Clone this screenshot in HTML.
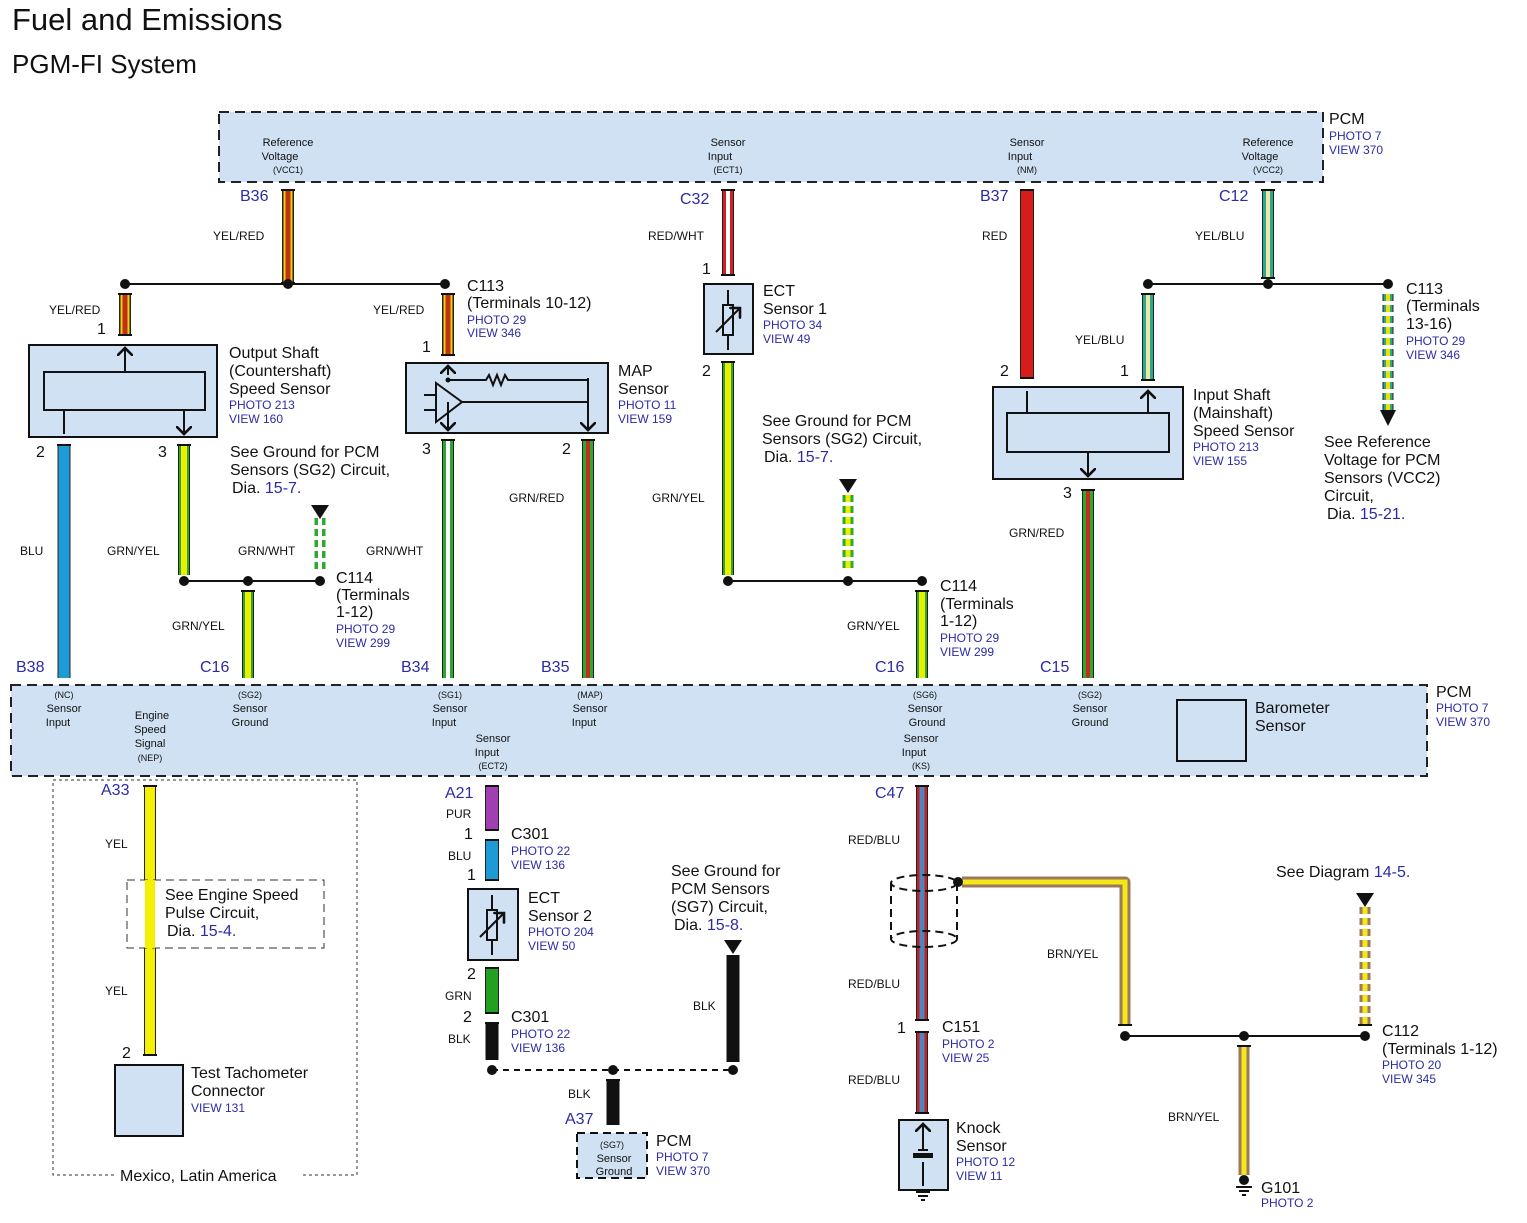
<!DOCTYPE html>
<html><head><meta charset="utf-8"><style>
body{margin:0;background:#fff}
svg{display:block;font-family:"Liberation Sans",sans-serif}
.t{font-size:16px;fill:#111}
.s{font-size:12px;fill:#111}
.xs{font-size:11px;fill:#111}
.b{font-size:12px;fill:#2b2ba6}
.bl{font-size:16px;fill:#2b2ba6}
.box{fill:#cfe1f3;stroke:#111;stroke-width:2}
.dash{fill:#cfe1f3;stroke:#222;stroke-width:2;stroke-dasharray:10 6}
.ln{stroke:#111;stroke-width:2;fill:none}
</style></head><body>
<svg width="1527" height="1223" viewBox="0 0 1527 1223">
<defs>
<marker id="ar" markerWidth="8" markerHeight="8" refX="4" refY="4" orient="auto"><path d="M0,0 L4,4 L0,8" fill="none" stroke="#111" stroke-width="1.3"/></marker>
</defs>
<text x="12" y="30" style="font-size:31px;fill:#111">Fuel and Emissions</text>
<text x="12" y="73" style="font-size:26px;fill:#111">PGM-FI System</text>

<rect x="219" y="112" width="1104" height="70" class="dash"/>
<rect x="11" y="685" width="1416" height="91" class="dash"/>
<g class="xs" text-anchor="middle">
<text x="288" y="146">Reference</text><text x="280" y="160">Voltage</text><text x="288" y="173" style="font-size:9px">(VCC1)</text>
<text x="728" y="146">Sensor</text><text x="720" y="160">Input</text><text x="728" y="173" style="font-size:9px">(ECT1)</text>
<text x="1027" y="146">Sensor</text><text x="1020" y="160">Input</text><text x="1027" y="173" style="font-size:9px">(NM)</text>
<text x="1268" y="146">Reference</text><text x="1260" y="160">Voltage</text><text x="1268" y="173" style="font-size:9px">(VCC2)</text>
</g>
<text x="1329" y="124" class="t">PCM</text><text x="1329" y="140" class="b">PHOTO 7</text><text x="1329" y="154" class="b">VIEW 370</text>
<text x="1436" y="697" class="t">PCM</text><text x="1436" y="712" class="b">PHOTO 7</text><text x="1436" y="726" class="b">VIEW 370</text>
<g class="xs" text-anchor="middle">
<text x="64" y="698" style="font-size:9px">(NC)</text><text x="64" y="712">Sensor</text><text x="58" y="726">Input</text>
<text x="152" y="719">Engine</text><text x="150" y="733">Speed</text><text x="150" y="747">Signal</text><text x="150" y="761" style="font-size:9px">(NEP)</text>
<text x="250" y="698" style="font-size:9px">(SG2)</text><text x="250" y="712">Sensor</text><text x="250" y="726">Ground</text>
<text x="450" y="698" style="font-size:9px">(SG1)</text><text x="450" y="712">Sensor</text><text x="444" y="726">Input</text>
<text x="493" y="742">Sensor</text><text x="487" y="756">Input</text><text x="493" y="769" style="font-size:9px">(ECT2)</text>
<text x="590" y="698" style="font-size:9px">(MAP)</text><text x="590" y="712">Sensor</text><text x="584" y="726">Input</text>
<text x="925" y="698" style="font-size:9px">(SG6)</text><text x="925" y="712">Sensor</text><text x="927" y="726">Ground</text>
<text x="921" y="742">Sensor</text><text x="914" y="756">Input</text><text x="921" y="769" style="font-size:9px">(KS)</text>
<text x="1090" y="698" style="font-size:9px">(SG2)</text><text x="1090" y="712">Sensor</text><text x="1090" y="726">Ground</text>
</g>
<rect x="1177" y="700" width="69" height="61" class="box"/>
<text x="1255" y="713" class="t">Barometer</text><text x="1255" y="731" class="t">Sensor</text>

<g fill="none" stroke-linecap="butt">
<g><path d="M288 190V283" stroke="#222" stroke-width="12"/><path d="M288 190V283" stroke="#f5d000" stroke-width="9"/><path d="M288 190V283" stroke="#c0301c" stroke-width="5"/></g>
<g><path d="M125 294V335" stroke="#222" stroke-width="12"/><path d="M125 294V335" stroke="#f5d000" stroke-width="9"/><path d="M125 294V335" stroke="#c0301c" stroke-width="5"/></g>
<g><path d="M448 294V355" stroke="#222" stroke-width="12"/><path d="M448 294V355" stroke="#f5d000" stroke-width="9"/><path d="M448 294V355" stroke="#c0301c" stroke-width="5"/></g>
<path d="M64 445V678" stroke="#222" stroke-width="13"/><path d="M64 445V678" stroke="#1e9ad4" stroke-width="11"/>
<g><path d="M184 445V575" stroke="#222" stroke-width="12"/><path d="M184 445V575" stroke="#2ea82e" stroke-width="10"/><path d="M184 445V575" stroke="#e8f000" stroke-width="6"/></g>
<g><path d="M248 591V678" stroke="#222" stroke-width="12"/><path d="M248 591V678" stroke="#2ea82e" stroke-width="10"/><path d="M248 591V678" stroke="#e8f000" stroke-width="6"/></g>
<g><path d="M728 362V575" stroke="#222" stroke-width="12"/><path d="M728 362V575" stroke="#2ea82e" stroke-width="10"/><path d="M728 362V575" stroke="#e8f000" stroke-width="6"/></g>
<g><path d="M922 591V678" stroke="#222" stroke-width="12"/><path d="M922 591V678" stroke="#2ea82e" stroke-width="10"/><path d="M922 591V678" stroke="#e8f000" stroke-width="6"/></g>
<g stroke-dasharray="7 4"><path d="M320 518V572" stroke="#2ea82e" stroke-width="11"/><path d="M320 518V572" stroke="#fff" stroke-width="4"/></g>
<g stroke-dasharray="7 4"><path d="M848 495V572" stroke="#2ea82e" stroke-width="11"/><path d="M848 495V572" stroke="#e8f000" stroke-width="5"/></g>
<g stroke-dasharray="7 4"><path d="M1388 294V410" stroke="#222" stroke-width="11"/><path d="M1388 294V410" stroke="#2aa890" stroke-width="9"/><path d="M1388 294V410" stroke="#f0e000" stroke-width="4"/></g>
<g stroke-dasharray="7 4"><path d="M1365 907V1025" stroke="#9b7a5c" stroke-width="11"/><path d="M1365 907V1025" stroke="#f5e81a" stroke-width="5"/></g>
<g><path d="M448 440V678" stroke="#222" stroke-width="12"/><path d="M448 440V678" stroke="#2ea82e" stroke-width="10"/><path d="M448 440V678" stroke="#fff" stroke-width="4"/></g>
<g><path d="M588 440V678" stroke="#222" stroke-width="12"/><path d="M588 440V678" stroke="#2ea82e" stroke-width="10"/><path d="M588 440V678" stroke="#c0301c" stroke-width="4"/></g>
<g><path d="M1088 490V678" stroke="#222" stroke-width="12"/><path d="M1088 490V678" stroke="#2ea82e" stroke-width="10"/><path d="M1088 490V678" stroke="#c0301c" stroke-width="4"/></g>
<g><path d="M728 190V275" stroke="#222" stroke-width="12"/><path d="M728 190V275" stroke="#d42020" stroke-width="10"/><path d="M728 190V275" stroke="#fff" stroke-width="4"/></g>
<path d="M1027 190V378" stroke="#222" stroke-width="14"/><path d="M1027 190V378" stroke="#d81c1c" stroke-width="12"/>
<g><path d="M1268 190V278" stroke="#222" stroke-width="12"/><path d="M1268 190V278" stroke="#2aa890" stroke-width="10"/><path d="M1268 190V278" stroke="#f0e8a0" stroke-width="4"/></g>
<g><path d="M1148 294V380" stroke="#222" stroke-width="12"/><path d="M1148 294V380" stroke="#2aa890" stroke-width="10"/><path d="M1148 294V380" stroke="#f0e8a0" stroke-width="4"/></g>
<path d="M150 786V1055" stroke="#222" stroke-width="12"/><path d="M150 786V1055" stroke="#f5f000" stroke-width="10"/>
<path d="M492 786V830" stroke="#222" stroke-width="14"/><path d="M492 786V830" stroke="#a040b0" stroke-width="12"/>
<path d="M492 840V880" stroke="#222" stroke-width="14"/><path d="M492 840V880" stroke="#1e9ad4" stroke-width="12"/>
<path d="M492 968V1013" stroke="#222" stroke-width="14"/><path d="M492 968V1013" stroke="#22a022" stroke-width="12"/>
<path d="M492 1023V1060" stroke="#111" stroke-width="13"/>
<path d="M733 955V1062" stroke="#111" stroke-width="13"/>
<path d="M613 1080V1125" stroke="#111" stroke-width="13"/>
<g><path d="M922 786V1020" stroke="#222" stroke-width="12"/><path d="M922 786V1020" stroke="#c81e1e" stroke-width="10"/><path d="M922 786V1020" stroke="#4a86c0" stroke-width="5"/></g>
<g><path d="M922 1032V1113" stroke="#222" stroke-width="12"/><path d="M922 1032V1113" stroke="#c81e1e" stroke-width="10"/><path d="M922 1032V1113" stroke="#4a86c0" stroke-width="5"/></g>
<g><path d="M962 882H1125V1025" stroke="#9b7a5c" stroke-width="11" stroke-linejoin="round"/><path d="M962 882H1125V1025" stroke="#f5e81a" stroke-width="5"/></g>
<g><path d="M1244 1046V1175" stroke="#9b7a5c" stroke-width="11"/><path d="M1244 1046V1175" stroke="#f5e81a" stroke-width="5"/></g>
</g>

<!-- connector caps -->
<g class="ln" stroke-width="2">
<path d="M281 190H295M281 283H295M118 294H132M118 335H132M441 294H455M441 355H455M57 445H71M177 445H191M241 591H255M721 362H735M915 591H929M441 440H455M581 440H595M1081 490H1095M721 190H735M721 275H735M1020 190H1034M1020 378H1034M1261 190H1275M1261 278H1275M1141 294H1155M1141 380H1155M143 786H157M143 1055H157M485 786H499M485 830H499M485 840H499M485 880H499M485 968H499M485 1013H499M485 1023H499M915 786H929M915 1020H929M915 1032H929M915 1113H929M1118 1025H1132M1237 1046H1251M1358 1025H1372M606 1080H620"/>
</g>

<path class="ln" d="M125 284H445M184 581H320M728 581H922M1148 284H1388M1125 1036H1365"/>
<path class="ln" d="M492 1070H733" stroke-dasharray="6 5"/>
<g fill="#111">
<circle cx="125" cy="284" r="5"/><circle cx="288" cy="284" r="5"/><circle cx="445" cy="284" r="5"/>
<circle cx="184" cy="581" r="5"/><circle cx="248" cy="581" r="5"/><circle cx="320" cy="581" r="5"/>
<circle cx="728" cy="581" r="5"/><circle cx="848" cy="581" r="5"/><circle cx="922" cy="581" r="5"/>
<circle cx="1148" cy="284" r="5"/><circle cx="1268" cy="284" r="5"/><circle cx="1388" cy="284" r="5"/>
<circle cx="492" cy="1070" r="5"/><circle cx="613" cy="1070" r="5"/><circle cx="733" cy="1070" r="5"/>
<circle cx="1125" cy="1036" r="5"/><circle cx="1244" cy="1036" r="5"/><circle cx="1365" cy="1036" r="5"/>
<circle cx="958" cy="882" r="5"/>
<path d="M311 505H329L320 519Z"/><path d="M839 479H857L848 493Z"/><path d="M724 940H742L733 954Z"/><path d="M1356 893H1374L1365 907Z"/>
<path d="M1380 410H1396L1388 426Z"/>
</g>

<rect x="29" y="345" width="188" height="92" class="box"/>
<rect x="44" y="372" width="161" height="38" class="box"/>
<path class="ln" d="M125 372V348" marker-end="url(#ar)"/>
<path class="ln" d="M64 410V434M184 410V434" marker-end="url(#ar)"/>
<text x="229" y="358" class="t">Output Shaft</text><text x="229" y="376" class="t">(Countershaft)</text><text x="229" y="394" class="t">Speed Sensor</text>
<text x="229" y="409" class="b">PHOTO 213</text><text x="229" y="423" class="b">VIEW 160</text>

<rect x="406" y="363" width="202" height="70" class="box"/>
<path class="ln" d="M436 383L462 402L436 422Z" fill="#cfe1f3"/>
<path class="ln" d="M424 395H436M424 410H436M462 402H588V378M448 380H486l3-5 4 10 4-10 4 10 4-10 3 5H588"/>
<path class="ln" d="M448 375V366" marker-end="url(#ar)"/><path class="ln" d="M448 402V430" marker-end="url(#ar)"/><path class="ln" d="M588 402V430" marker-end="url(#ar)"/>
<circle cx="448" cy="380" r="2.5" fill="#111"/>
<text x="467" y="291" class="t">C113</text><text x="467" y="308" class="t">(Terminals 10-12)</text>
<text x="467" y="324" class="b">PHOTO 29</text><text x="467" y="337" class="b">VIEW 346</text>
<text x="618" y="376" class="t">MAP</text><text x="618" y="394" class="t">Sensor</text><text x="618" y="409" class="b">PHOTO 11</text><text x="618" y="423" class="b">VIEW 159</text>

<rect x="704" y="284" width="49" height="70" class="box"/>
<path class="ln" d="M728 290V305M728 335V350M723 305H733V335H723Z"/><path class="ln" d="M716 332L740 308" marker-end="url(#ar)"/>
<text x="763" y="296" class="t">ECT</text><text x="763" y="314" class="t">Sensor 1</text><text x="763" y="329" class="b">PHOTO 34</text><text x="763" y="343" class="b">VIEW 49</text>

<rect x="993" y="387" width="190" height="92" class="box"/>
<rect x="1007" y="413" width="162" height="39" class="box"/>
<path class="ln" d="M1027 413V391M1148 413V391" marker-end="url(#ar)"/><path class="ln" d="M1088 452V476" marker-end="url(#ar)"/>
<text x="1193" y="400" class="t">Input Shaft</text><text x="1193" y="418" class="t">(Mainshaft)</text><text x="1193" y="436" class="t">Speed Sensor</text>
<text x="1193" y="451" class="b">PHOTO 213</text><text x="1193" y="465" class="b">VIEW 155</text>

<rect x="53" y="780" width="304" height="395" fill="none" stroke="#333" stroke-width="1" stroke-dasharray="3 3"/>
<rect x="127" y="880" width="197" height="68" fill="#fff" stroke="#333" stroke-width="1" stroke-dasharray="8 5"/>
<path d="M150 880V948" stroke="#f5f000" stroke-width="10"/>
<text x="165" y="900" class="t">See Engine Speed</text><text x="165" y="918" class="t">Pulse Circuit,</text><text x="167" y="936" class="t">Dia.  <tspan class="bl">15-4.</tspan></text>
<rect x="115" y="1065" width="68" height="71" class="box"/>
<text x="191" y="1078" class="t">Test Tachometer</text><text x="191" y="1096" class="t">Connector</text><text x="191" y="1112" class="b">VIEW 131</text>
<rect x="114" y="1166" width="186" height="18" fill="#fff"/>
<text x="120" y="1181" class="t">Mexico, Latin America</text>

<rect x="468" y="889" width="50" height="71" class="box"/>
<path class="ln" d="M492 895V910M492 940V955M487 910H497V940H487Z"/><path class="ln" d="M480 937L504 913" marker-end="url(#ar)"/>
<text x="528" y="903" class="t">ECT</text><text x="528" y="921" class="t">Sensor 2</text><text x="528" y="936" class="b">PHOTO 204</text><text x="528" y="950" class="b">VIEW 50</text>
<text x="511" y="839" class="t">C301</text><text x="511" y="855" class="b">PHOTO 22</text><text x="511" y="869" class="b">VIEW 136</text>
<text x="511" y="1022" class="t">C301</text><text x="511" y="1038" class="b">PHOTO 22</text><text x="511" y="1052" class="b">VIEW 136</text>
<rect x="577" y="1133" width="70" height="45" class="box" stroke-dasharray="8 5"/>
<g class="xs" text-anchor="middle"><text x="612" y="1148" style="font-size:9px">(SG7)</text><text x="614" y="1162">Sensor</text><text x="614" y="1175">Ground</text></g>
<text x="656" y="1146" class="t">PCM</text><text x="656" y="1161" class="b">PHOTO 7</text><text x="656" y="1175" class="b">VIEW 370</text>
<text x="671" y="876" class="t">See Ground for</text><text x="671" y="894" class="t">PCM Sensors</text><text x="671" y="912" class="t">(SG7) Circuit,</text><text x="674" y="930" class="t">Dia.  <tspan class="bl">15-8.</tspan></text>

<g fill="none" stroke="#111" stroke-width="2" stroke-dasharray="8 5">
<ellipse cx="924" cy="883" rx="33" ry="8"/><ellipse cx="924" cy="939" rx="33" ry="8"/>
<path d="M891 883V939M957 883V939"/>
</g>
<rect x="899" y="1120" width="49" height="70" class="box"/>
<path class="ln" d="M923 1150V1124" marker-end="url(#ar)"/><path class="ln" d="M923 1162V1186M918 1150H928"/>
<rect x="913" y="1153" width="20" height="5" fill="#111"/>
<path class="ln" d="M916 1192H930M918 1196H928M921 1200H925"/>
<text x="956" y="1133" class="t">Knock</text><text x="956" y="1151" class="t">Sensor</text><text x="956" y="1166" class="b">PHOTO 12</text><text x="956" y="1180" class="b">VIEW 11</text>
<text x="942" y="1032" class="t">C151</text><text x="942" y="1048" class="b">PHOTO 2</text><text x="942" y="1062" class="b">VIEW 25</text>
<circle cx="1244" cy="1180" r="5" fill="#111"/><path class="ln" d="M1236 1187H1252M1239 1191H1249M1242 1195H1246"/>
<text x="1261" y="1193" class="t">G101</text><text x="1261" y="1207" class="b">PHOTO 2</text>
<text x="1382" y="1036" class="t">C112</text><text x="1382" y="1054" class="t">(Terminals 1-12)</text><text x="1382" y="1069" class="b">PHOTO 20</text><text x="1382" y="1083" class="b">VIEW 345</text>
<text x="1276" y="877" class="t">See Diagram <tspan class="bl">14-5.</tspan></text>

<text x="336" y="583" class="t">C114</text><text x="336" y="600" class="t">(Terminals</text><text x="336" y="617" class="t">1-12)</text><text x="336" y="633" class="b">PHOTO 29</text><text x="336" y="647" class="b">VIEW 299</text>
<text x="940" y="591" class="t">C114</text><text x="940" y="609" class="t">(Terminals</text><text x="940" y="626" class="t">1-12)</text><text x="940" y="642" class="b">PHOTO 29</text><text x="940" y="656" class="b">VIEW 299</text>
<text x="1406" y="294" class="t">C113</text><text x="1406" y="311" class="t">(Terminals</text><text x="1406" y="329" class="t">13-16)</text><text x="1406" y="345" class="b">PHOTO 29</text><text x="1406" y="359" class="b">VIEW 346</text>
<text x="230" y="457" class="t">See Ground for PCM</text><text x="230" y="475" class="t">Sensors (SG2) Circuit,</text><text x="232" y="493" class="t">Dia.  <tspan class="bl">15-7.</tspan></text>
<text x="762" y="426" class="t">See Ground for PCM</text><text x="762" y="444" class="t">Sensors (SG2) Circuit,</text><text x="764" y="462" class="t">Dia.  <tspan class="bl">15-7.</tspan></text>
<text x="1324" y="447" class="t">See Reference</text><text x="1324" y="465" class="t">Voltage for PCM</text><text x="1324" y="483" class="t">Sensors (VCC2)</text><text x="1324" y="501" class="t">Circuit,</text><text x="1327" y="519" class="t">Dia.  <tspan class="bl">15-21.</tspan></text>

<g class="bl">
<text x="240" y="201">B36</text><text x="680" y="204">C32</text><text x="980" y="201">B37</text><text x="1219" y="201">C12</text>
<text x="16" y="672">B38</text><text x="200" y="672">C16</text><text x="401" y="672">B34</text><text x="541" y="672">B35</text><text x="875" y="672">C16</text><text x="1040" y="672">C15</text>
<text x="101" y="795">A33</text><text x="445" y="798">A21</text><text x="875" y="798">C47</text><text x="565" y="1124">A37</text>
</g>
<g class="t">
<text x="97" y="334">1</text><text x="422" y="352">1</text><text x="702" y="274">1</text><text x="1000" y="376">2</text><text x="1120" y="376">1</text>
<text x="36" y="457">2</text><text x="158" y="457">3</text><text x="422" y="454">3</text><text x="562" y="454">2</text><text x="702" y="376">2</text><text x="1063" y="498">3</text>
<text x="122" y="1058">2</text><text x="464" y="839">1</text><text x="467" y="880">1</text><text x="467" y="979">2</text><text x="463" y="1022">2</text><text x="897" y="1033">1</text>
</g>
<g class="s">
<text x="213" y="240">YEL/RED</text><text x="49" y="314">YEL/RED</text><text x="373" y="314">YEL/RED</text>
<text x="648" y="240">RED/WHT</text><text x="982" y="240">RED</text><text x="1195" y="240">YEL/BLU</text><text x="1075" y="344">YEL/BLU</text>
<text x="20" y="555">BLU</text><text x="107" y="555">GRN/YEL</text><text x="238" y="555">GRN/WHT</text><text x="366" y="555">GRN/WHT</text><text x="172" y="630">GRN/YEL</text>
<text x="509" y="502">GRN/RED</text><text x="652" y="502">GRN/YEL</text><text x="847" y="630">GRN/YEL</text><text x="1009" y="537">GRN/RED</text>
<text x="105" y="848">YEL</text><text x="105" y="995">YEL</text>
<text x="446" y="818">PUR</text><text x="448" y="860">BLU</text><text x="445" y="1000">GRN</text><text x="448" y="1043">BLK</text>
<text x="568" y="1098">BLK</text><text x="693" y="1010">BLK</text>
<text x="848" y="844">RED/BLU</text><text x="848" y="988">RED/BLU</text><text x="848" y="1084">RED/BLU</text>
<text x="1047" y="958">BRN/YEL</text><text x="1168" y="1121">BRN/YEL</text>
</g>
</svg>
</body></html>
